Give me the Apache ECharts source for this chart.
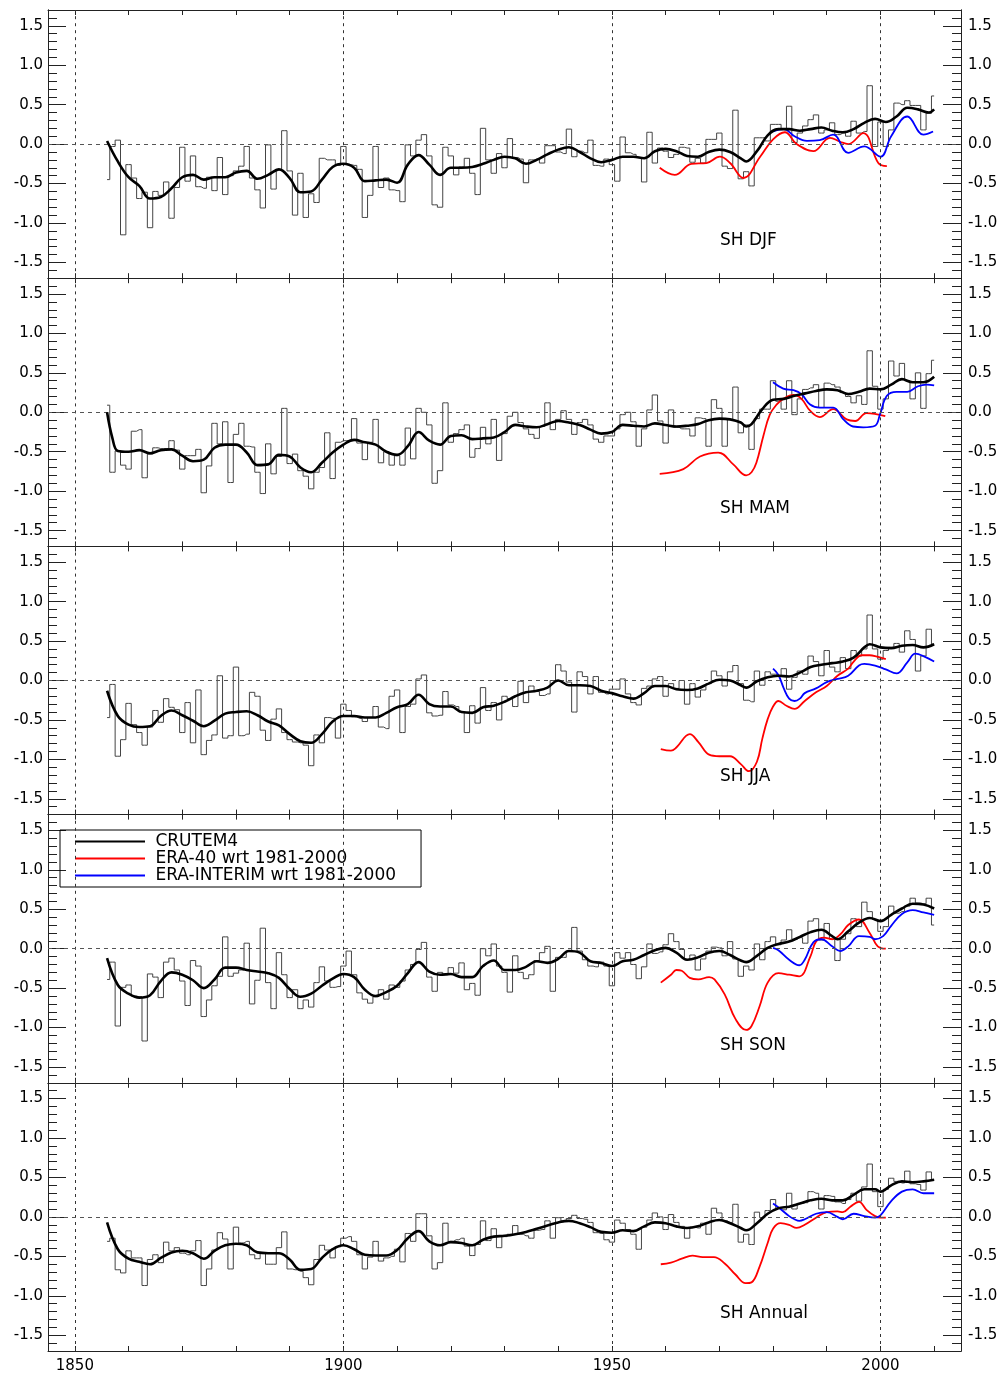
<!DOCTYPE html>
<html><head><meta charset="utf-8">
<script src="https://cdn.jsdelivr.net/npm/echarts@6/dist/echarts.min.js"></script>
<style>html,body{margin:0;padding:0;background:#fff}#c{width:1005px;height:1380px}</style>
</head><body><div id="c"></div>
<script>
// ---------- data ----------
const startYear = 1856;
const seasonLabels = ['SH DJF', 'SH MAM', 'SH JJA', 'SH SON', 'SH Annual'];
const decadeTicks = [1850,1860,1870,1880,1890,1900,1910,1920,1930,1940,1950,1960,1970,1980,1990,2000,2010];
const yearLabels = [1850,1900,1950,2000];
const refYears = [1850,1900,1950,2000];
const majorTicks = [-1.5,-1.0,-0.5,0,0.5,1.0,1.5];
const minorTicks = [-1.6,-1.4,-1.3,-1.2,-1.1,-0.9,-0.8,-0.7,-0.6,-0.4,-0.3,-0.2,-0.1,0.1,0.2,0.3,0.4,0.6,0.7,0.8,0.9,1.1,1.2,1.3,1.4,1.6];

const djfAnnual = [
-0.45,-0.03,0.05,-1.15,-0.26,-0.43,-0.69,-0.61,-1.06,-0.60,
-0.65,-0.48,-0.94,-0.55,-0.04,-0.47,-0.15,-0.54,-0.56,-0.42,
-0.59,-0.17,-0.64,-0.40,-0.34,-0.28,-0.03,-0.43,-0.58,-0.81,
-0.01,-0.57,-0.32,0.17,-0.34,-0.90,-0.37,-0.93,-0.63,-0.74,
-0.18,-0.20,-0.20,-0.27,-0.03,-0.26,-0.27,-0.32,-0.93,-0.65,
-0.03,-0.55,-0.43,-0.58,-0.59,-0.73,-0.01,-0.15,0.05,0.12,
-0.15,-0.77,-0.80,-0.04,-0.15,-0.39,-0.29,-0.18,-0.37,-0.64,
0.20,-0.20,-0.37,-0.12,-0.30,0.07,-0.17,-0.19,-0.49,-0.20,
-0.19,-0.24,-0.02,-0.02,-0.10,-0.12,0.19,-0.16,-0.09,-0.11,
0.05,-0.27,-0.28,-0.19,-0.26,-0.47,0.09,-0.11,-0.13,-0.17,
-0.48,0.15,-0.24,-0.05,-0.09,-0.17,-0.13,-0.04,-0.05,-0.23,
-0.18,-0.24,0.06,0.06,0.14,-0.28,-0.31,0.43,-0.44,-0.35,
-0.53,0.08,0.08,0.04,0.25,0.25,0.19,0.48,0.02,0.14,
0.23,0.31,0.37,0.14,0.18,0.27,0.12,0.14,0.10,0.29,
0.14,0.16,0.74,-0.03,0.28,-0.03,0.18,0.52,0.50,0.55,
0.49,0.49,0.18,0.39,0.61];
const mamAnnual = [
0.09,-0.76,-0.49,-0.67,-0.72,-0.24,-0.22,-0.83,-0.53,-0.45,
-0.46,-0.46,-0.36,-0.48,-0.72,-0.55,-0.55,-0.47,-1.02,-0.68,
-0.14,-0.40,-0.12,-0.89,-0.28,-0.14,-0.43,-0.44,-0.76,-1.03,
-0.40,-0.78,-0.56,0.05,-0.65,-0.53,-0.74,-0.81,-0.97,-0.76,
-0.70,-0.26,-0.84,-0.38,-0.36,-0.36,-0.08,-0.39,-0.60,-0.38,
-0.09,-0.64,-0.50,-0.67,-0.55,-0.67,-0.20,-0.59,0.05,0.00,
-0.16,-0.90,-0.74,0.12,-0.38,-0.27,-0.22,-0.16,-0.57,-0.46,
-0.19,-0.40,-0.09,-0.61,-0.27,-0.05,0.00,-0.13,-0.21,-0.28,
-0.33,-0.18,0.12,-0.22,-0.09,0.02,-0.09,-0.28,-0.13,-0.09,
-0.16,-0.34,-0.38,-0.30,-0.30,-0.21,-0.03,0.00,-0.12,-0.43,
-0.21,0.03,0.22,-0.11,-0.39,0.03,-0.19,-0.21,-0.21,-0.30,
-0.07,-0.08,-0.43,0.16,0.05,-0.43,-0.09,0.32,-0.26,-0.16,
-0.47,-0.08,0.04,0.04,0.40,0.14,0.04,0.40,-0.03,0.17,
0.29,0.31,0.35,0.06,0.37,0.35,0.32,0.25,0.20,0.12,
0.21,0.10,0.78,0.33,0.04,0.17,0.65,0.46,0.62,0.40,
0.17,0.50,0.05,0.49,0.66];
const jjaAnnual = [
-0.47,-0.05,-0.96,-0.75,-0.29,-0.56,-0.66,-0.82,-0.59,-0.38,
-0.53,-0.23,-0.34,-0.37,-0.66,-0.28,-0.79,-0.12,-0.94,-0.76,
-0.69,0.06,-0.73,-0.70,0.17,-0.70,-0.68,-0.15,-0.20,-0.63,
-0.76,-0.49,-0.36,-0.66,-0.75,-0.78,-0.79,-0.82,-1.08,-0.69,
-0.79,-0.47,-0.48,-0.73,-0.30,-0.38,-0.46,-0.48,-0.52,-0.47,
-0.33,-0.59,-0.61,-0.20,-0.12,-0.66,-0.33,-0.30,0.02,0.07,
-0.41,-0.45,-0.44,-0.14,-0.31,-0.33,-0.40,-0.66,-0.32,-0.54,
-0.09,-0.38,-0.28,-0.50,-0.20,-0.23,-0.33,-0.01,-0.28,-0.07,
-0.14,-0.19,-0.17,0.00,0.20,0.12,-0.02,-0.40,0.11,0.05,
-0.17,0.05,-0.15,-0.17,-0.11,-0.11,0.02,-0.17,-0.28,-0.31,
-0.10,-0.07,0.02,0.05,-0.20,-0.04,-0.10,0.00,-0.30,-0.04,
-0.21,-0.12,-0.04,0.12,0.06,-0.07,0.11,0.19,-0.04,-0.25,
-0.27,0.12,-0.06,0.11,0.08,0.06,0.15,-0.11,0.04,0.12,
0.08,0.31,0.24,0.06,0.38,0.17,0.11,0.29,0.15,0.38,
0.31,0.40,0.83,0.40,0.27,0.38,0.42,0.47,0.36,0.63,
0.52,0.12,0.31,0.65,0.46];
const sonAnnual = [
-0.39,-0.17,-0.98,-0.49,-0.46,-0.60,-0.61,-1.17,-0.32,-0.36,
-0.62,-0.17,-0.12,-0.27,-0.41,-0.72,-0.15,-0.22,-0.86,-0.65,
-0.47,-0.35,0.15,-0.35,-0.31,-0.27,0.07,-0.70,-0.40,0.26,
-0.43,-0.76,-0.05,-0.33,-0.62,-0.52,-0.76,-0.65,-0.74,-0.43,
-0.23,-0.41,-0.49,-0.48,-0.22,-0.03,-0.33,-0.56,-0.64,-0.69,
-0.61,-0.52,-0.64,-0.46,-0.49,-0.41,-0.27,-0.20,-0.01,0.08,
-0.36,-0.54,-0.30,-0.33,-0.24,-0.31,-0.18,-0.52,-0.44,-0.59,
0.00,-0.09,0.06,-0.22,-0.30,-0.55,-0.09,-0.30,-0.38,-0.33,
-0.15,-0.05,0.03,-0.54,-0.11,-0.11,-0.03,0.27,-0.03,-0.14,
-0.22,-0.23,-0.17,-0.22,-0.47,-0.05,-0.12,-0.05,-0.20,-0.38,
-0.23,0.06,-0.06,-0.04,0.05,0.19,0.09,-0.01,-0.14,-0.08,
-0.27,-0.13,-0.03,0.02,0.01,-0.09,0.09,-0.13,-0.35,-0.22,
-0.27,0.06,-0.14,0.09,0.15,0.05,0.11,0.24,0.12,0.14,
0.07,0.35,0.38,0.11,0.32,0.12,-0.15,0.12,0.19,0.38,
0.28,0.59,0.47,0.37,0.22,0.28,0.54,0.45,0.47,0.54,
0.64,0.58,0.57,0.64,0.30];
const annAnnual = [
-0.31,-0.27,-0.67,-0.71,-0.43,-0.52,-0.52,-0.87,-0.54,-0.48,
-0.58,-0.32,-0.43,-0.39,-0.46,-0.48,-0.43,-0.30,-0.87,-0.66,
-0.42,-0.20,-0.28,-0.66,-0.13,-0.33,-0.31,-0.48,-0.53,-0.46,
-0.60,-0.60,-0.39,-0.19,-0.66,-0.67,-0.69,-0.77,-0.86,-0.54,
-0.36,-0.42,-0.52,-0.38,-0.27,-0.25,-0.31,-0.48,-0.66,-0.51,
-0.31,-0.56,-0.52,-0.50,-0.41,-0.57,-0.21,-0.31,0.04,0.04,
-0.24,-0.66,-0.58,-0.08,-0.31,-0.29,-0.27,-0.37,-0.49,-0.35,
-0.05,-0.30,-0.15,-0.39,-0.25,-0.22,-0.11,-0.22,-0.24,-0.27,
-0.17,-0.16,-0.05,-0.27,-0.01,-0.05,-0.02,0.02,-0.02,-0.03,
-0.07,-0.20,-0.21,-0.29,-0.32,-0.04,-0.08,-0.16,-0.22,-0.41,
-0.13,-0.04,0.05,0.00,-0.16,0.03,-0.07,-0.12,-0.27,-0.13,
-0.14,-0.08,-0.22,0.11,0.05,-0.05,-0.07,0.16,-0.32,-0.22,
-0.35,0.06,-0.01,0.08,0.22,0.11,0.09,0.30,0.10,0.17,
0.18,0.32,0.30,0.10,0.27,0.26,0.19,0.17,0.22,0.30,
0.20,0.38,0.67,0.32,0.13,0.35,0.49,0.45,0.43,0.58,
0.42,0.41,0.34,0.57,0.47];

const djfSmooth = [[1856,0.04],[1858,-0.22],[1860,-0.42],[1862,-0.53],[1864,-0.69],[1866,-0.67],[1868,-0.56],[1870,-0.42],[1872,-0.39],[1874,-0.45],[1876,-0.42],[1878,-0.42],[1880,-0.36],[1882,-0.34],[1884,-0.44],[1886,-0.39],[1888,-0.32],[1890,-0.43],[1892,-0.61],[1894,-0.60],[1896,-0.45],[1898,-0.29],[1900,-0.25],[1902,-0.30],[1904,-0.47],[1906,-0.46],[1908,-0.45],[1910,-0.49],[1912,-0.26],[1914,-0.14],[1916,-0.26],[1918,-0.39],[1920,-0.30],[1922,-0.30],[1924,-0.29],[1926,-0.25],[1928,-0.20],[1930,-0.16],[1932,-0.18],[1934,-0.25],[1936,-0.20],[1938,-0.13],[1940,-0.07],[1942,-0.04],[1944,-0.10],[1946,-0.18],[1948,-0.23],[1950,-0.20],[1952,-0.16],[1954,-0.16],[1956,-0.18],[1958,-0.09],[1960,-0.06],[1962,-0.09],[1964,-0.15],[1966,-0.16],[1968,-0.10],[1970,-0.07],[1972,-0.10],[1974,-0.18],[1975,-0.22],[1977,-0.09],[1979,0.11],[1981,0.19],[1983,0.19],[1985,0.17],[1987,0.19],[1989,0.21],[1991,0.17],[1993,0.15],[1995,0.19],[1997,0.27],[1999,0.32],[2001,0.28],[2003,0.35],[2005,0.46],[2007,0.44],[2009,0.40],[2010,0.44]];
const mamSmooth = [[1856,0.0],[1857,-0.33],[1858,-0.49],[1860,-0.50],[1862,-0.48],[1864,-0.52],[1866,-0.48],[1868,-0.47],[1870,-0.55],[1872,-0.62],[1874,-0.60],[1876,-0.45],[1878,-0.41],[1880,-0.41],[1882,-0.51],[1884,-0.67],[1886,-0.66],[1888,-0.54],[1890,-0.56],[1892,-0.70],[1894,-0.76],[1896,-0.64],[1898,-0.51],[1900,-0.41],[1902,-0.35],[1904,-0.38],[1906,-0.41],[1908,-0.50],[1910,-0.54],[1912,-0.43],[1914,-0.25],[1916,-0.36],[1918,-0.41],[1920,-0.30],[1922,-0.29],[1924,-0.34],[1926,-0.33],[1928,-0.32],[1930,-0.25],[1932,-0.16],[1934,-0.18],[1936,-0.19],[1938,-0.15],[1940,-0.11],[1942,-0.13],[1944,-0.16],[1946,-0.22],[1948,-0.27],[1950,-0.25],[1952,-0.16],[1954,-0.17],[1956,-0.18],[1958,-0.14],[1960,-0.16],[1962,-0.18],[1964,-0.17],[1966,-0.15],[1968,-0.10],[1970,-0.08],[1972,-0.09],[1974,-0.13],[1975,-0.18],[1976,-0.15],[1978,0.04],[1980,0.16],[1982,0.17],[1984,0.21],[1986,0.24],[1988,0.27],[1990,0.29],[1992,0.28],[1994,0.23],[1996,0.26],[1998,0.30],[2000,0.29],[2002,0.35],[2004,0.42],[2006,0.38],[2008,0.38],[2010,0.45]];
const jjaSmooth = [[1856,-0.13],[1858,-0.45],[1860,-0.56],[1862,-0.59],[1864,-0.58],[1866,-0.45],[1868,-0.38],[1870,-0.44],[1872,-0.51],[1874,-0.58],[1876,-0.51],[1878,-0.42],[1880,-0.40],[1882,-0.39],[1884,-0.44],[1886,-0.52],[1888,-0.57],[1890,-0.68],[1892,-0.77],[1894,-0.79],[1896,-0.68],[1898,-0.52],[1900,-0.45],[1902,-0.45],[1904,-0.47],[1906,-0.47],[1908,-0.41],[1910,-0.34],[1912,-0.30],[1914,-0.18],[1916,-0.30],[1918,-0.33],[1920,-0.33],[1922,-0.40],[1924,-0.41],[1926,-0.34],[1928,-0.32],[1930,-0.27],[1932,-0.20],[1934,-0.15],[1936,-0.13],[1938,-0.09],[1940,0.0],[1942,-0.06],[1944,-0.06],[1946,-0.07],[1948,-0.13],[1950,-0.16],[1952,-0.20],[1954,-0.23],[1956,-0.16],[1958,-0.07],[1960,-0.07],[1962,-0.11],[1964,-0.12],[1966,-0.10],[1968,-0.04],[1970,0.01],[1972,0.0],[1974,-0.06],[1975,-0.09],[1977,-0.01],[1979,0.04],[1981,0.06],[1983,0.05],[1985,0.10],[1987,0.17],[1989,0.20],[1991,0.22],[1993,0.24],[1995,0.29],[1997,0.42],[1998,0.46],[2000,0.42],[2002,0.41],[2004,0.44],[2006,0.45],[2008,0.42],[2010,0.46]];
const sonSmooth = [[1856,-0.12],[1858,-0.46],[1860,-0.57],[1862,-0.62],[1864,-0.59],[1866,-0.41],[1868,-0.30],[1870,-0.33],[1872,-0.40],[1874,-0.50],[1876,-0.39],[1878,-0.24],[1880,-0.24],[1882,-0.27],[1884,-0.29],[1886,-0.31],[1888,-0.37],[1890,-0.51],[1892,-0.61],[1894,-0.57],[1896,-0.47],[1898,-0.38],[1900,-0.32],[1902,-0.36],[1904,-0.52],[1906,-0.60],[1908,-0.55],[1910,-0.47],[1912,-0.31],[1914,-0.17],[1916,-0.29],[1918,-0.33],[1920,-0.32],[1922,-0.36],[1924,-0.36],[1926,-0.22],[1928,-0.15],[1930,-0.27],[1932,-0.27],[1934,-0.23],[1936,-0.16],[1938,-0.18],[1940,-0.13],[1942,-0.03],[1944,-0.05],[1946,-0.16],[1948,-0.18],[1950,-0.22],[1952,-0.16],[1954,-0.14],[1956,-0.08],[1958,-0.02],[1960,0.01],[1962,-0.05],[1964,-0.14],[1966,-0.11],[1968,-0.05],[1970,-0.03],[1972,-0.08],[1974,-0.15],[1975,-0.17],[1977,-0.09],[1979,0.01],[1981,0.06],[1983,0.09],[1985,0.15],[1987,0.21],[1989,0.24],[1991,0.16],[1992,0.12],[1994,0.22],[1996,0.33],[1998,0.39],[2000,0.35],[2002,0.43],[2004,0.51],[2006,0.57],[2008,0.56],[2010,0.51]];
const annSmooth = [[1856,-0.07],[1858,-0.41],[1860,-0.53],[1862,-0.57],[1864,-0.60],[1866,-0.52],[1868,-0.45],[1870,-0.43],[1872,-0.46],[1874,-0.53],[1876,-0.43],[1878,-0.36],[1880,-0.34],[1882,-0.36],[1884,-0.45],[1886,-0.46],[1888,-0.46],[1890,-0.54],[1892,-0.67],[1894,-0.66],[1896,-0.52],[1898,-0.41],[1900,-0.36],[1902,-0.41],[1904,-0.48],[1906,-0.49],[1908,-0.49],[1910,-0.42],[1912,-0.27],[1914,-0.18],[1916,-0.31],[1918,-0.36],[1920,-0.32],[1922,-0.33],[1924,-0.36],[1926,-0.29],[1928,-0.25],[1930,-0.24],[1932,-0.22],[1934,-0.19],[1936,-0.15],[1938,-0.11],[1940,-0.07],[1942,-0.05],[1944,-0.08],[1946,-0.13],[1948,-0.19],[1950,-0.20],[1952,-0.17],[1954,-0.18],[1956,-0.12],[1958,-0.07],[1960,-0.08],[1962,-0.12],[1964,-0.14],[1966,-0.12],[1968,-0.07],[1970,-0.04],[1972,-0.08],[1974,-0.14],[1975,-0.17],[1977,-0.08],[1979,0.04],[1981,0.11],[1983,0.13],[1985,0.17],[1987,0.21],[1989,0.23],[1991,0.21],[1993,0.21],[1995,0.28],[1997,0.35],[1999,0.35],[2000,0.32],[2002,0.40],[2004,0.45],[2006,0.44],[2008,0.45],[2010,0.47]];

const djfEra40 = [[1958.9,-0.30],[1961.7,-0.39],[1964.8,-0.25],[1967.6,-0.24],[1970.1,-0.16],[1972,-0.24],[1974.5,-0.43],[1977.6,-0.16],[1980,0.06],[1982.2,0.15],[1984.4,0.0],[1987.5,-0.09],[1990.6,0.08],[1992.5,0.03],[1994,0.0],[1996.8,0.14],[1999.6,-0.24],[2001.2,-0.28]];
const mamEra40 = [[1958.9,-0.78],[1963.3,-0.72],[1966.4,-0.56],[1969.8,-0.51],[1972.6,-0.66],[1975,-0.80],[1976,-0.76],[1976.9,-0.64],[1978.2,-0.30],[1979.4,-0.03],[1980.7,0.10],[1981.9,0.17],[1983.8,0.22],[1985.3,0.17],[1986.9,0.02],[1988.7,-0.06],[1991.2,0.04],[1993.7,-0.09],[1995.3,-0.11],[1997.4,-0.01],[2000.9,-0.05]];
const jjaEra40 = [[1959.1,-0.87],[1961,-0.89],[1962,-0.85],[1964.5,-0.68],[1966.1,-0.78],[1968.1,-0.94],[1970,-0.96],[1972,-0.96],[1974,-1.06],[1975.5,-1.15],[1977,-1.03],[1978,-0.74],[1979,-0.49],[1980,-0.33],[1981,-0.26],[1982.5,-0.32],[1984,-0.36],[1985.9,-0.26],[1988,-0.15],[1990,-0.07],[1992,0.06],[1994,0.15],[1994.9,0.23],[1996.5,0.32],[1998,0.32],[1999,0.31],[2001,0.27]];
const sonEra40 = [[1959.1,-0.43],[1961,-0.33],[1962,-0.27],[1963,-0.28],[1964.5,-0.37],[1966.1,-0.39],[1968.1,-0.36],[1969.1,-0.39],[1971,-0.58],[1973,-0.89],[1975,-1.03],[1976,-0.98],[1977.5,-0.73],[1979,-0.43],[1981,-0.31],[1983,-0.33],[1984.9,-0.35],[1987,-0.09],[1988,0.09],[1989.5,0.14],[1991,0.12],[1992.5,0.18],[1994,0.30],[1996,0.37],[1998,0.20],[1999.5,0.03],[2001,0.0]];
const annEra40 = [[1959.1,-0.60],[1961,-0.58],[1963,-0.53],[1965,-0.49],[1966.9,-0.51],[1969,-0.51],[1971,-0.59],[1973,-0.73],[1974.9,-0.84],[1976,-0.83],[1977.5,-0.63],[1979,-0.33],[1980,-0.15],[1981.4,-0.08],[1983,-0.10],[1984.4,-0.14],[1985.9,-0.10],[1988,-0.01],[1990,0.06],[1992,0.07],[1993,0.06],[1994.4,0.13],[1996,0.19],[1997.4,0.09],[1999,0.01],[2000,-0.01],[2001,-0.01]];

const djfInterim = [[1980,0.16],[1982,0.19],[1984,0.10],[1986.3,0.04],[1988.7,0.05],[1991.2,0.12],[1994,-0.11],[1997,-0.03],[2000,-0.16],[2002,0.10],[2005,0.35],[2008,0.12],[2009.8,0.16]];
const mamInterim = [[1980,0.38],[1981.9,0.30],[1983.8,0.28],[1985.3,0.23],[1986.9,0.10],[1988.7,0.06],[1991.2,0.06],[1993.1,-0.09],[1994.9,-0.18],[1996.8,-0.19],[1999,-0.17],[1999.9,-0.03],[2001.2,0.21],[2003,0.26],[2005,0.26],[2007,0.33],[2008.6,0.35],[2010,0.34]];
const jjaInterim = [[1980,0.15],[1981,0.07],[1982,-0.10],[1983,-0.23],[1984,-0.26],[1985,-0.23],[1985.9,-0.16],[1988,-0.10],[1990,-0.02],[1992,0.02],[1994,0.06],[1996,0.19],[1997,0.21],[1999,0.19],[2001,0.14],[2003,0.09],[2005,0.23],[2006.5,0.34],[2008,0.31],[2010,0.24]];
const sonInterim = [[1980,0.01],[1981,-0.02],[1983,-0.14],[1984.9,-0.21],[1985.9,-0.14],[1987.5,0.08],[1989,0.12],[1991,0.03],[1992.5,-0.03],[1994,0.03],[1996,0.16],[1998,0.15],[1999,0.12],[2000.5,0.16],[2002,0.29],[2004,0.44],[2006,0.49],[2008,0.46],[2010,0.43]];
const annInterim = [[1980,0.17],[1981.4,0.10],[1983,0.01],[1984,-0.03],[1984.9,-0.05],[1985.9,-0.03],[1988,0.04],[1990,0.06],[1992,0.0],[1993,-0.03],[1995,0.04],[1997,0.01],[1999,-0.01],[2000,0.02],[2002,0.20],[2004,0.32],[2006,0.35],[2008,0.30],[2010,0.30]];

const annualSets = [djfAnnual, mamAnnual, jjaAnnual, sonAnnual, annAnnual];
const smoothSets = [djfSmooth, mamSmooth, jjaSmooth, sonSmooth, annSmooth];
const era40Sets = [djfEra40, mamEra40, jjaEra40, sonEra40, annEra40];
const interimSets = [djfInterim, mamInterim, jjaInterim, sonInterim, annInterim];
const seriesNames = ['CRUTEM4', 'ERA-40 wrt 1981-2000', 'ERA-INTERIM wrt 1981-2000'];

// ---------- chart ----------
const F = 'DejaVu Sans';
const gridTop = 10, gridH = 268.2;
const axisColor = '#222';
const option = {
  animation: false,
  backgroundColor: '#fff',
  grid: [], xAxis: [], yAxis: [], series: [], title: [],
  legend: {
    data: seriesNames, orient: 'vertical', left: 60, top: 830,
    icon: 'rect', itemWidth: 70, itemHeight: 2, itemGap: 0,
    padding: [3, 25, 3, 15], borderColor: '#000', borderWidth: 1,
    selectedMode: false, formatter: n => ' ' + n,
    textStyle: { fontFamily: F, fontSize: 17, color: '#000', lineHeight: 16 }
  }
};

seasonLabels.forEach((label, i) => {
  const top = gridTop + i * gridH;
  option.grid.push({ left: 48, right: 44, top: top, height: gridH });
  option.title.push({ text: label, left: 720, top: top + 222, padding: 0,
    textStyle: { fontFamily: F, fontSize: 17, fontWeight: 'normal', color: '#000' } });

  const xBase = { gridIndex: i, type: 'value', min: 1845, max: 2015,
    axisLine: { show: true, onZero: false, lineStyle: { color: axisColor, width: 1 } },
    axisTick: { show: true, inside: true, length: 5, customValues: decadeTicks, lineStyle: { color: axisColor } },
    splitLine: { show: false } };
  option.xAxis.push(Object.assign({}, xBase, { position: 'bottom',
    axisLabel: { show: i === 4, customValues: yearLabels, formatter: v => String(Math.round(v)),
      fontFamily: F, fontSize: 15, color: '#000', margin: 8 } }));
  option.xAxis.push(Object.assign({}, xBase, { position: 'top', axisLabel: { show: false } }));

  const yBase = { gridIndex: i, type: 'value', min: -1.7, max: 1.7,
    axisLine: { show: true, onZero: false, lineStyle: { color: axisColor, width: 1 } },
    splitLine: { show: false } };
  ['left', 'right'].forEach(pos => {
    option.yAxis.push(Object.assign({}, yBase, { position: pos,
      axisTick: { show: true, inside: true, length: 18, customValues: majorTicks, lineStyle: { color: axisColor } },
      axisLabel: { show: true, customValues: majorTicks, formatter: v => Number(v).toFixed(1),
        fontFamily: F, fontSize: 15, color: '#000', margin: pos === 'left' ? 5 : 7 } }));
    option.yAxis.push(Object.assign({}, yBase, { position: pos,
      axisTick: { show: true, inside: true, length: 9, customValues: minorTicks, lineStyle: { color: axisColor } },
      axisLabel: { show: false } }));
  });

  const xi = i * 2, yi = i * 4;
  option.series.push({
    type: 'line', name: 'CRUTEM4 annual', xAxisIndex: xi, yAxisIndex: yi, step: 'middle',
    data: annualSets[i].map((v, k) => [startYear + k, v]),
    symbol: 'none', showSymbol: false, silent: true, z: 2,
    lineStyle: { color: '#444', width: 1 }, itemStyle: { color: '#444' },
    markLine: { silent: true, symbol: ['none', 'none'], label: { show: false }, animation: false,
      data: refYears.map(y => ({ xAxis: y, lineStyle: { type: [3, 4], color: '#333', width: 1 } }))
        .concat([{ yAxis: 0, lineStyle: { type: [4, 4], color: '#555', width: 1 } }]) }
  });
  option.series.push({
    type: 'line', name: seriesNames[1], xAxisIndex: xi, yAxisIndex: yi, data: era40Sets[i],
    smooth: 0.4, symbol: 'none', silent: true, z: 4, color: '#f00',
    lineStyle: { color: '#f00', width: 1.8 }, itemStyle: { color: '#f00' }
  });
  option.series.push({
    type: 'line', name: seriesNames[2], xAxisIndex: xi, yAxisIndex: yi, data: interimSets[i],
    smooth: 0.4, symbol: 'none', silent: true, z: 4, color: '#00f',
    lineStyle: { color: '#00f', width: 1.8 }, itemStyle: { color: '#00f' }
  });
  option.series.push({
    type: 'line', name: seriesNames[0], xAxisIndex: xi, yAxisIndex: yi, data: smoothSets[i],
    smooth: 0.4, symbol: 'none', silent: true, z: 5, color: '#000',
    lineStyle: { color: '#000', width: 2.6 }, itemStyle: { color: '#000' }
  });
});

const chart = echarts.init(document.getElementById('c'), null, { renderer: 'canvas' });
chart.setOption(option);
</script>
</body></html>
